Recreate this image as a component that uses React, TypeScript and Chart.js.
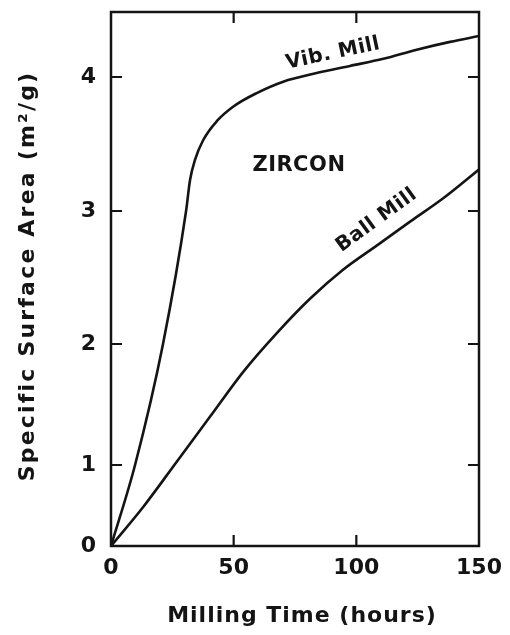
import React, { useEffect, useRef } from 'react';
import { Chart, registerables, LinearScale } from 'chart.js';

// ---- data ----
const X_TICKS = [0, 50, 100, 150];
const Y_TICKS = [0, 1, 2, 3, 4];
const VIB_TIME = [0, 9.8, 21.2, 30.6, 32.2, 34.2, 37.6, 43.1, 49.9, 59.4, 70.2, 83.8, 97.4, 111, 124.6, 138.2, 150];
const VIB_AREA = [0, 1.0, 2.0, 3.0, 3.23, 3.38, 3.53, 3.67, 3.78, 3.88, 3.965, 4.03, 4.085, 4.14, 4.21, 4.27, 4.315];
const BALL_TIME = [0, 13.2, 26.8, 40.4, 53.9, 67.5, 81.1, 94.7, 108.3, 121.9, 135.4, 150];
const BALL_AREA = [0, 0.485, 1.027, 1.4, 1.77, 2.08, 2.34, 2.56, 2.74, 2.92, 3.095, 3.31];

const X_TITLE = 'Milling Time (hours)';
const Y_TITLE = 'Specific Surface Area (m\u00B2/g)';
const SPECIMEN_LABEL = 'ZIRCON';
const VIB_LABEL = 'Vib. Mill';
const BALL_LABEL = 'Ball Mill';
// label anchors in data units: [time, area]
const SPECIMEN_AT = [76.6, 3.34];
const VIB_LABEL_AT = [90.5, 4.18];
const BALL_LABEL_AT = [108.3, 2.93];

// the printed value axis is not evenly spaced: knots of value -> fraction of height
const Y_KNOT_VALUES = [0, 1, 2, 3, 4, 4.5];
const Y_KNOT_FRACTIONS = [0, 0.1517, 0.3783, 0.6273, 0.8783, 1];

function interp(v: number, xs: number[], ys: number[]) {
  let i = 0;
  while (i < xs.length - 2 && v > xs[i + 1]) i++;
  const t = (v - xs[i]) / (xs[i + 1] - xs[i]);
  return ys[i] + t * (ys[i + 1] - ys[i]);
}

class WarpScale extends LinearScale {
  static id = 'warp';
  getPixelForValue(value: number) {
    if (value === null || value === undefined || isNaN(value)) return NaN;
    return this.getPixelForDecimal(interp(value, Y_KNOT_VALUES, Y_KNOT_FRACTIONS));
  }
  getValueForPixel(pixel: number) {
    return interp(this.getDecimalForPixel(pixel), Y_KNOT_FRACTIONS, Y_KNOT_VALUES);
  }
}

Chart.register(...registerables, WarpScale);

const FONT = '"DejaVu Sans", "Liberation Sans", sans-serif';
const INK = '#141414';
const TICK_LEN = 11;

const decorPlugin = {
  id: 'decor',
  afterDatasetsDraw(chart: any) {
    const { ctx, chartArea: a, scales } = chart;
    const x = scales.x;
    const y = scales.y;
    ctx.save();
    ctx.strokeStyle = INK;
    ctx.lineWidth = 2.5;
    ctx.strokeRect(a.left, a.top, a.right - a.left, a.bottom - a.top);
    ctx.lineWidth = 2.2;
    ctx.beginPath();
    for (const v of X_TICKS) {
      const px = x.getPixelForValue(v);
      if (px <= a.left + 2 || px >= a.right - 2) continue;
      ctx.moveTo(px, a.bottom);
      ctx.lineTo(px, a.bottom - TICK_LEN);
      ctx.moveTo(px, a.top);
      ctx.lineTo(px, a.top + TICK_LEN);
    }
    for (const v of Y_TICKS) {
      const py = y.getPixelForValue(v);
      if (py >= a.bottom - 2 || py <= a.top + 2) continue;
      ctx.moveTo(a.left, py);
      ctx.lineTo(a.left + TICK_LEN, py);
      ctx.moveTo(a.right, py);
      ctx.lineTo(a.right - TICK_LEN, py);
    }
    ctx.stroke();

    ctx.fillStyle = INK;
    const c: any = ctx;
    // axis titles
    ctx.font = `bold 22px ${FONT}`;
    c.letterSpacing = '1px';
    ctx.textAlign = 'center';
    ctx.textBaseline = 'alphabetic';
    ctx.fillText(X_TITLE, (a.left + a.right) / 2 + 7, a.bottom + 76);
    ctx.save();
    c.letterSpacing = '2.2px';
    ctx.translate(34, (a.top + a.bottom) / 2 - 3);
    ctx.rotate(-Math.PI / 2);
    ctx.fillText(Y_TITLE, 0, 0);
    ctx.restore();

    // in-plot labels
    c.letterSpacing = '0.5px';
    ctx.textBaseline = 'middle';
    ctx.font = `bold 21px ${FONT}`;
    ctx.fillText(SPECIMEN_LABEL, x.getPixelForValue(SPECIMEN_AT[0]), y.getPixelForValue(SPECIMEN_AT[1]));

    ctx.font = `bold 20px ${FONT}`;
    ctx.save();
    ctx.translate(x.getPixelForValue(VIB_LABEL_AT[0]), y.getPixelForValue(VIB_LABEL_AT[1]));
    ctx.rotate((-12 * Math.PI) / 180);
    ctx.fillText(VIB_LABEL, 0, 0);
    ctx.restore();

    ctx.save();
    ctx.translate(x.getPixelForValue(BALL_LABEL_AT[0]), y.getPixelForValue(BALL_LABEL_AT[1]));
    ctx.rotate((-36 * Math.PI) / 180);
    ctx.fillText(BALL_LABEL, 0, 0);
    ctx.restore();

    ctx.restore();
  },
};

export default function App() {
  const ref = useRef<HTMLCanvasElement>(null);
  useEffect(() => {
    document.body.style.margin = '0';
    document.body.style.background = '#ffffff';
    const canvas = ref.current;
    if (!canvas) return;
    const chart = new Chart(canvas, {
      type: 'line',
      data: {
        datasets: [
          {
            label: VIB_LABEL,
            data: VIB_TIME.map((t, i) => ({ x: t, y: VIB_AREA[i] })),
            borderColor: INK,
            borderWidth: 2.6,
            pointRadius: 0,
            cubicInterpolationMode: 'monotone',
            fill: false,
          },
          {
            label: BALL_LABEL,
            data: BALL_TIME.map((t, i) => ({ x: t, y: BALL_AREA[i] })),
            borderColor: INK,
            borderWidth: 2.6,
            pointRadius: 0,
            cubicInterpolationMode: 'monotone',
            fill: false,
          },
        ],
      },
      options: {
        animation: false,
        responsive: true,
        maintainAspectRatio: false,
        events: [],
        layout: { padding: { top: 12, right: 31, left: 0, bottom: 0 } },
        plugins: { legend: { display: false }, tooltip: { enabled: false } },
        scales: {
          x: {
            type: 'linear',
            min: 0,
            max: 150,
            grid: { display: false, drawTicks: false },
            border: { display: false },
            afterFit: (s: any) => {
              s.height = 89;
              s.paddingLeft = 0;
              s.paddingRight = 0;
            },
            afterBuildTicks: (s: any) => {
              s.ticks = X_TICKS.map((v) => ({ value: v }));
            },
            ticks: {
              color: INK,
              padding: 9,
              font: { family: FONT, size: 22, weight: 'bold' },
              maxRotation: 0,
              autoSkip: false,
            },
          },
          y: {
            type: 'warp' as any,
            min: 0,
            max: 4.5,
            grid: { display: false, drawTicks: false },
            border: { display: false },
            afterFit: (s: any) => {
              s.width = 111;
              s.paddingTop = 0;
              s.paddingBottom = 0;
            },
            afterBuildTicks: (s: any) => {
              s.ticks = Y_TICKS.map((v) => ({ value: v }));
            },
            ticks: {
              color: INK,
              padding: 15,
              font: { family: FONT, size: 22, weight: 'bold' },
              autoSkip: false,
            },
          },
        },
      },
      plugins: [decorPlugin],
    } as any);
    return () => chart.destroy();
  }, []);
  return (
    <div style={{ position: 'relative', width: 510, height: 635 }}>
      <canvas ref={ref} style={{ display: 'block' }} />
    </div>
  );
}
